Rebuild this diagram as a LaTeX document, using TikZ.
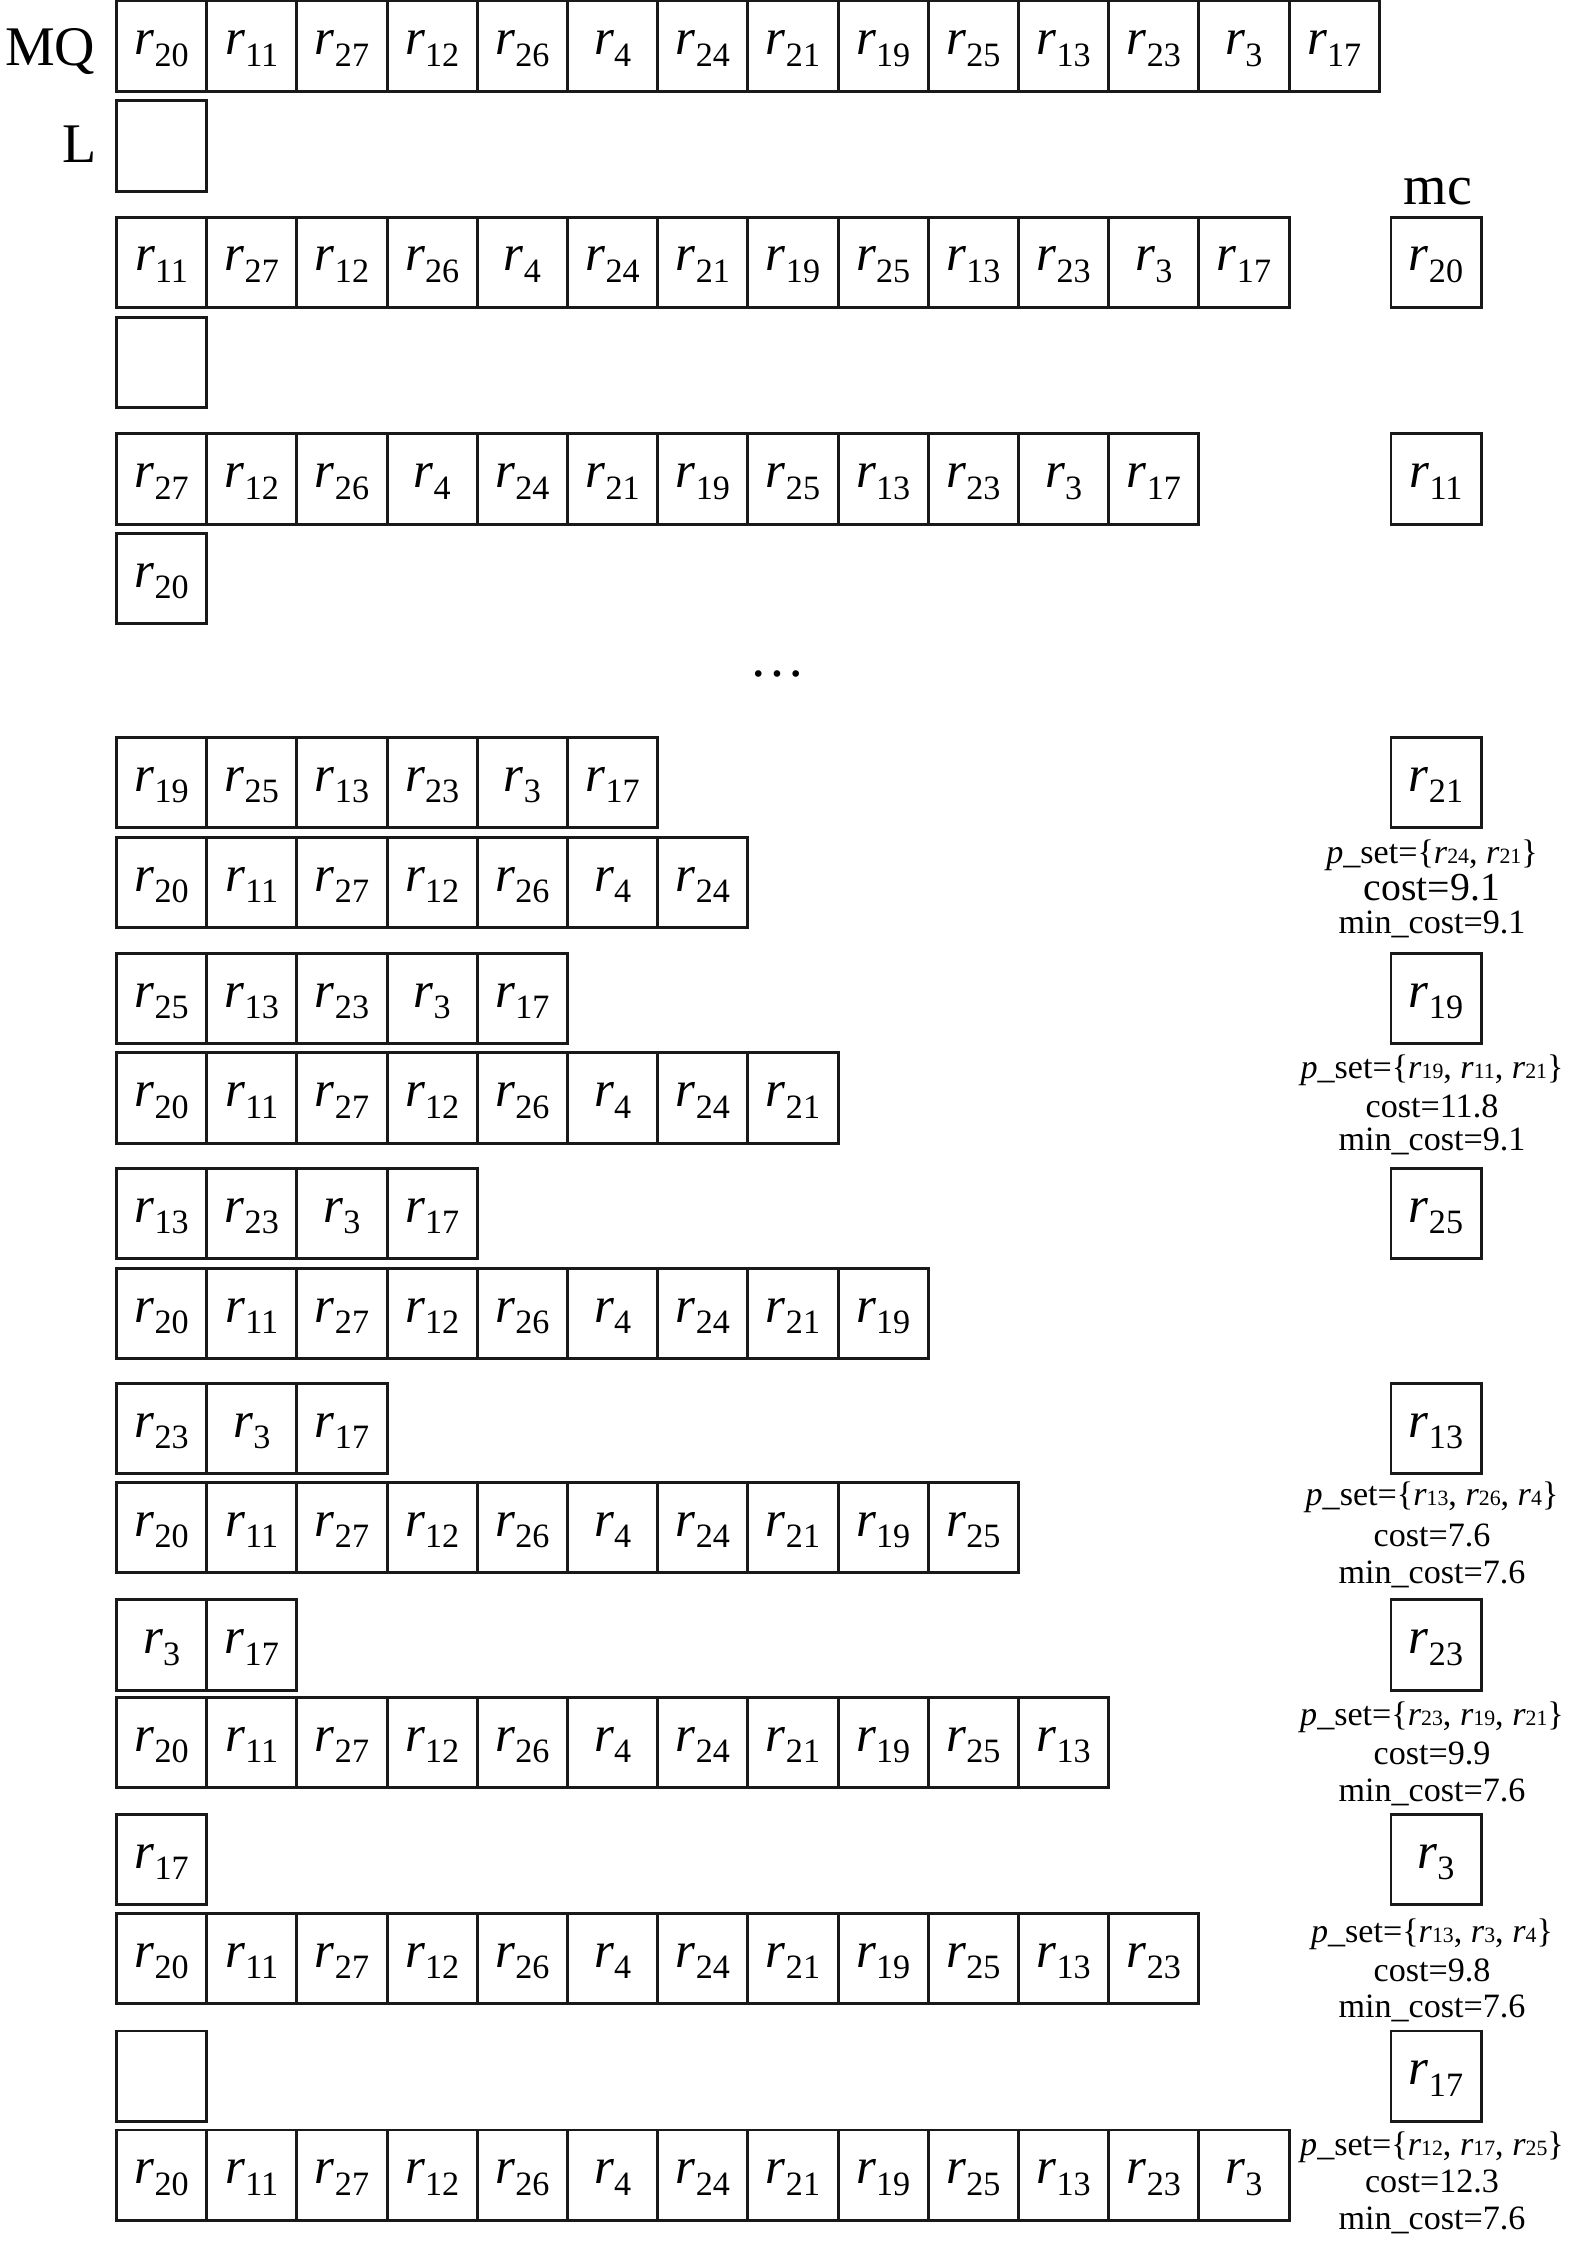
\documentclass[tikz,border=0pt]{standalone}
\usepackage{fontspec}
\setmainfont{Liberation Serif}
\usetikzlibrary{positioning}

\tikzset{
  % queue cells
  cell/.style={rectangle, draw=black!90, line width=0.85pt, minimum width=0.9cm, minimum height=0.9cm, inner sep=0pt, outer sep=0pt, text height=0.26cm, text depth=0.09cm, font=\fontsize{14.5}{17}\selectfont},
  % row titles
  lbl/.style={inner sep=0pt, font=\fontsize{15.9}{19}\selectfont},
  % cost notes
  note/.style={inner sep=0pt, anchor=base, font=\fontsize{9.7}{11}\selectfont},
}

% r with index, in a cell
\newcommand{\rsub}[1]{\textit{r}\raisebox{-3.4pt}{\fontsize{9.7}{10}\selectfont #1}}
% r with index, in a note
\newcommand{\rnote}[1]{\textit{r}{\fontsize{6.2}{7}\selectfont #1}}
% one row of cells
\newcommand{\cellrow}[3]{%
  \foreach \r [count=\i] in {#3} {\node[cell] (#1-\i) at ({161.6+90.2*(\i-1)}, #2) {\rsub{\r}};}}

\begin{document}
\begin{tikzpicture}[x=0.01cm, y=-0.01cm]
    \useasboundingbox (0,0) rectangle (1575,2243);

    % Titles
    \node[lbl, anchor=base east] (mq) at (96,66) {MQ};
    \node[lbl, anchor=base east] (ll) at (97,163) {L};
    \node[lbl, anchor=base] (mc) at (1438,205) {mc};

    % Step 1
    \cellrow{q1}{46}{20,11,27,12,26,4,24,21,19,25,13,23,3,17}
    \node[cell] (l1-1) at (161.6,146) {};

    % Step 2
    \cellrow{q2}{262.5}{11,27,12,26,4,24,21,19,25,13,23,3,17}
    \node[cell] (l2-1) at (161.6,362.5) {};
    \node[cell] (mc2) at (1436,262.5) {\rsub{20}};

    % Step 3
    \cellrow{q3}{479}{27,12,26,4,24,21,19,25,13,23,3,17}
    \cellrow{l3}{578.5}{20}
    \node[cell] (mc3) at (1436,479) {\rsub{11}};

    \node[lbl, anchor=base] (dots) at (777,676) {…};

    % Step 4
    \cellrow{q4}{782.5}{19,25,13,23,3,17}
    \cellrow{l4}{882.5}{20,11,27,12,26,4,24}
    \node[cell] (mc4) at (1436,782.5) {\rsub{21}};
    \node[note] (ps4) at (1432,863) {\textit{p}\_set=\{\rnote{24}, \rnote{21}\}};
    \node[note, font=\fontsize{11.3}{13}\selectfont] (cs4) at (1432,900) {cost=9.1};
    \node[note] (mn4) at (1432,933) {min\_cost=9.1};

    % Step 5
    \cellrow{q5}{998.5}{25,13,23,3,17}
    \cellrow{l5}{1098}{20,11,27,12,26,4,24,21}
    \node[cell] (mc5) at (1436,998.5) {\rsub{19}};
    \node[note] (ps5) at (1432,1078) {\textit{p}\_set=\{\rnote{19}, \rnote{11}, \rnote{21}\}};
    \node[note] (cs5) at (1432,1117) {cost=11.8};
    \node[note] (mn5) at (1432,1150) {min\_cost=9.1};

    % Step 6
    \cellrow{q6}{1213.5}{13,23,3,17}
    \cellrow{l6}{1313.5}{20,11,27,12,26,4,24,21,19}
    \node[cell] (mc6) at (1436,1213.5) {\rsub{25}};

    % Step 7
    \cellrow{q7}{1428.5}{23,3,17}
    \cellrow{l7}{1527.5}{20,11,27,12,26,4,24,21,19,25}
    \node[cell] (mc7) at (1436,1428.5) {\rsub{13}};
    \node[note] (ps7) at (1432,1505) {\textit{p}\_set=\{\rnote{13}, \rnote{26}, \rnote{4}\}};
    \node[note] (cs7) at (1432,1546) {cost=7.6};
    \node[note] (mn7) at (1432,1583) {min\_cost=7.6};

    % Step 8
    \cellrow{q8}{1645}{3,17}
    \cellrow{l8}{1742.5}{20,11,27,12,26,4,24,21,19,25,13}
    \node[cell] (mc8) at (1436,1645) {\rsub{23}};
    \node[note] (ps8) at (1432,1725) {\textit{p}\_set=\{\rnote{23}, \rnote{19}, \rnote{21}\}};
    \node[note] (cs8) at (1432,1764) {cost=9.9};
    \node[note] (mn8) at (1432,1801) {min\_cost=7.6};

    % Step 9
    \cellrow{q9}{1859.5}{17}
    \cellrow{l9}{1958.5}{20,11,27,12,26,4,24,21,19,25,13,23}
    \node[cell] (mc9) at (1436,1859.5) {\rsub{3}};
    \node[note] (ps9) at (1432,1942) {\textit{p}\_set=\{\rnote{13}, \rnote{3}, \rnote{4}\}};
    \node[note] (cs9) at (1432,1981) {cost=9.8};
    \node[note] (mn9) at (1432,2017) {min\_cost=7.6};

    % Step 10
    \node[cell] (q10-1) at (161.6,2076) {};
    \cellrow{l10}{2175}{20,11,27,12,26,4,24,21,19,25,13,23,3}
    \node[cell] (mc10) at (1436,2076) {\rsub{17}};
    \node[note] (ps10) at (1432,2155) {\textit{p}\_set=\{\rnote{12}, \rnote{17}, \rnote{25}\}};
    \node[note] (cs10) at (1432,2192) {cost=12.3};
    \node[note] (mn10) at (1432,2229) {min\_cost=7.6};
  \end{tikzpicture}
\end{document}
